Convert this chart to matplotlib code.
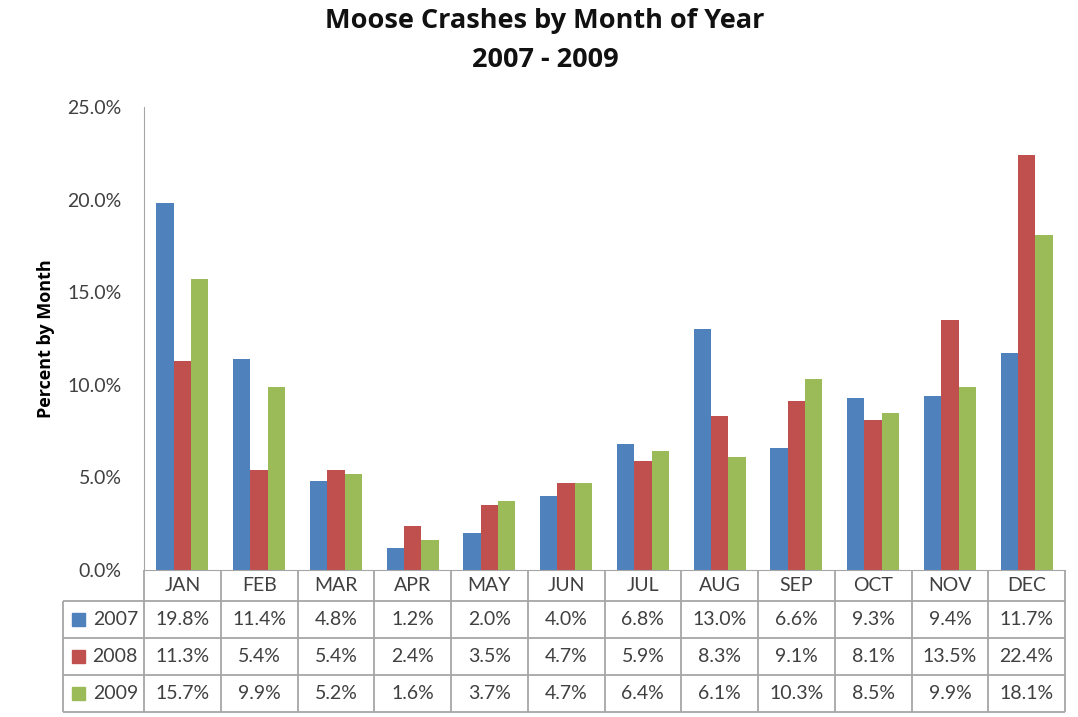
import matplotlib
matplotlib.use("Agg")
import matplotlib.pyplot as plt
import matplotlib.transforms as mtransforms
import numpy as np
from matplotlib.patches import Rectangle

months = ["JAN", "FEB", "MAR", "APR", "MAY", "JUN", "JUL", "AUG", "SEP", "OCT", "NOV", "DEC"]
years = ["2007", "2008", "2009"]
pct_2007 = [19.8, 11.4, 4.8, 1.2, 2.0, 4.0, 6.8, 13.0, 6.6, 9.3, 9.4, 11.7]
pct_2008 = [11.3, 5.4, 5.4, 2.4, 3.5, 4.7, 5.9, 8.3, 9.1, 8.1, 13.5, 22.4]
pct_2009 = [15.7, 9.9, 5.2, 1.6, 3.7, 4.7, 6.4, 6.1, 10.3, 8.5, 9.9, 18.1]
y_ticks = [0, 5, 10, 15, 20, 25]

colors = ["#4F81BD", "#C0504D", "#9BBB59"]
text_color = "#404040"
line_color = "#A6A6A6"

plt.rcParams["font.family"] = ["Lato", "DejaVu Sans"]

W, H = 1078, 717
ax_l, ax_r, ax_t, ax_b = 144, 1065, 107, 570

fig = plt.figure(figsize=(W / 100, H / 100), dpi=100)
ax = fig.add_axes([ax_l / W, 1 - ax_b / H, (ax_r - ax_l) / W, (ax_b - ax_t) / H])

x = np.arange(len(months))
bar_w = 0.225
all_vals = [pct_2007, pct_2008, pct_2009]
for i, vals in enumerate(all_vals):
    ax.bar(x + (i - 1) * bar_w, vals, width=bar_w, color=colors[i], zorder=2)

ax.set_xlim(-0.5, len(months) - 0.5)
ax.set_ylim(0, 25)
ax.set_yticks(y_ticks)
ax.set_yticklabels([f"{v:.1f}%" for v in y_ticks], fontsize=14, color=text_color)
ax.tick_params(axis="y", length=0, pad=16)
ax.set_xticks([])
for side in ["top", "right"]:
    ax.spines[side].set_visible(False)
ax.spines["left"].set_color(line_color)
ax.spines["bottom"].set_color(line_color)
ax.set_ylabel("Percent by Month", fontsize=13, fontweight="bold", labelpad=9,
              family=["Open Sans", "DejaVu Sans"])

title_kw = dict(ha="center", va="center", fontsize=19.5, fontweight="bold", color="#111111",
                family=["Open Sans", "DejaVu Sans"])
fig.text(545 / W, 1 - 21 / H, "Moose Crashes by Month of Year", **title_kw)
fig.text(545 / W, 1 - 60 / H, "2007 - 2009", **title_kw)


# data table under the plot, drawn by hand
def ay(py):
    return (ax_b - py) / (ax_b - ax_t)


def ax_px(px):
    return (px - ax_l) / (ax_r - ax_l)


blend = mtransforms.blended_transform_factory(ax.transData, ax.transAxes)
row_edges = [570, 601, 638, 675, 712]
tbl_left = 63
line_kw = dict(color=line_color, lw=1.3, clip_on=False, solid_capstyle="butt")

# horizontal lines
for py in row_edges[1:]:
    ax.plot([ax_px(tbl_left), 1], [ay(py), ay(py)], transform=ax.transAxes, **line_kw)
# vertical lines between month columns
for b in np.arange(len(months) + 1) - 0.5:
    ax.plot([b, b], [ay(row_edges[0]), ay(row_edges[-1])], transform=blend, **line_kw)
# left edge of the label column
ax.plot([ax_px(tbl_left)] * 2, [ay(row_edges[1]), ay(row_edges[-1])], transform=ax.transAxes, **line_kw)

# header
yc = ay((row_edges[0] + row_edges[1]) / 2)
for j, m in enumerate(months):
    ax.text(j, yc, m, transform=blend, ha="center", va="center", fontsize=14, color=text_color)

# rows
sq = 13
for i, (yr, vals) in enumerate(zip(years, all_vals)):
    mid = (row_edges[i + 1] + row_edges[i + 2]) / 2
    yc = ay(mid)
    for j, v in enumerate(vals):
        ax.text(j, yc, f"{v:.1f}%", transform=blend, ha="center", va="center",
                fontsize=14, color=text_color)
    ax.text(ax_px(138), yc, yr, transform=ax.transAxes, ha="right", va="center",
            fontsize=14, color=text_color)
    ax.add_patch(Rectangle((ax_px(72), ay(mid + sq / 2)), sq / (ax_r - ax_l), sq / (ax_b - ax_t),
                           transform=ax.transAxes, color=colors[i], clip_on=False, zorder=5))

fig.savefig("out.png", dpi=100)
